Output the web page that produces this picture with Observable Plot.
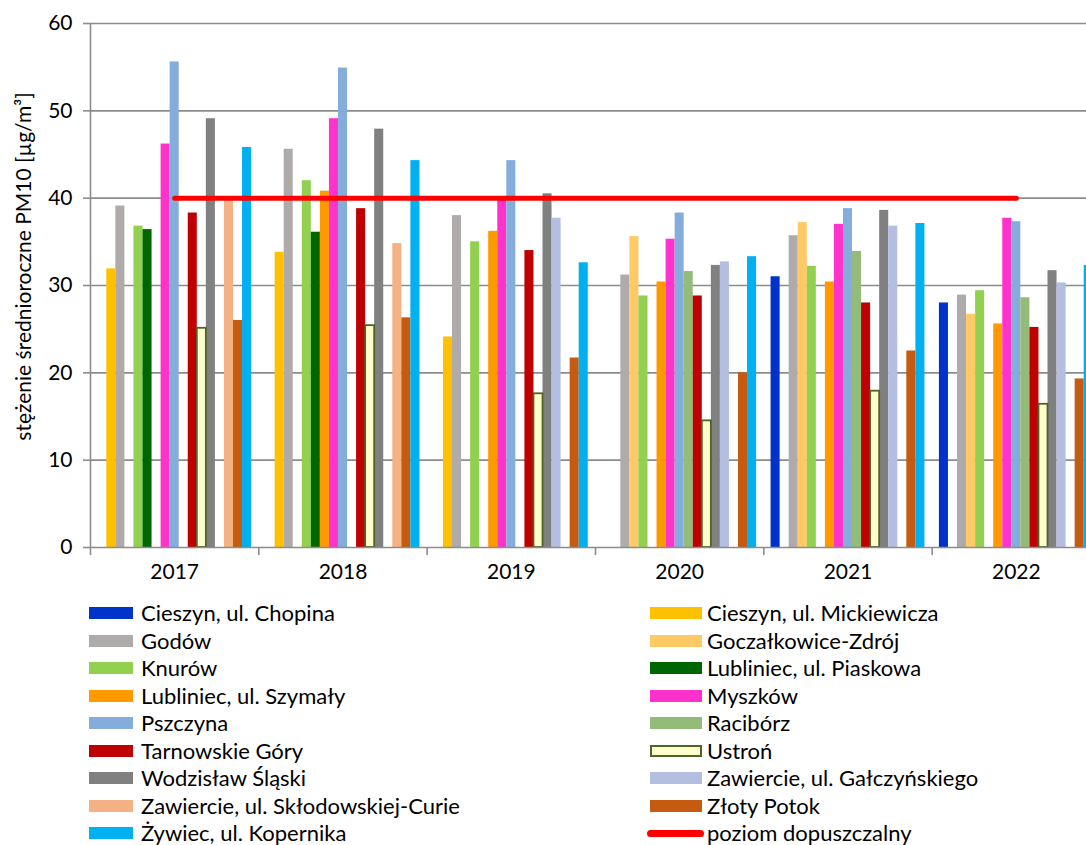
<!DOCTYPE html>
<html><head><meta charset="utf-8">
<script src="https://cdn.jsdelivr.net/npm/d3@7"></script>
<script src="https://cdn.jsdelivr.net/npm/@observablehq/plot@0.6"></script>
<style>
html,body{margin:0;padding:0;background:#fff;overflow:hidden}
#wrap{position:relative;width:1086px;height:845px;overflow:hidden;font-family:Lato,sans-serif;background:#fff}
#chart{position:absolute;left:0;top:0;width:1100px}
#chart svg{max-width:none}
.item{position:absolute;height:27px;font-size:22px;color:#000;white-space:nowrap}
.sw{position:absolute;height:12px;top:8px}
.txt{position:absolute;top:1px;line-height:25px;height:25px}
</style></head>
<body><div id="wrap"><div id="chart"></div><div id="legend"></div></div>
<script>
const years = ["2017", "2018", "2019", "2020", "2021", "2022"];
const stations = ["Cieszyn, ul. Chopina", "Cieszyn, ul. Mickiewicza", "Godów", "Goczałkowice-Zdrój", "Knurów",
  "Lubliniec, ul. Piaskowa", "Lubliniec, ul. Szymały", "Myszków", "Pszczyna", "Racibórz", "Tarnowskie Góry",
  "Ustroń", "Wodzisław Śląski", "Zawiercie, ul. Gałczyńskiego", "Zawiercie, ul. Skłodowskiej-Curie", "Złoty Potok",
  "Żywiec, ul. Kopernika"];
const colors = ["#0033CC", "#FFC000", "#AFABAB", "#FFC966", "#92D050", "#006600", "#FF9900", "#FF33CC", "#85ADDB",
  "#93BB7A", "#C00000", "#FFFFCC", "#808080", "#B4BEE0", "#F4B183", "#C55A11", "#00B0F0"];

// values per station, 2017..2022 (null = no measurement)
const cieszynChopina     = [null, null, null, null, 31.0, 28.0];
const cieszynMickiewicza = [31.9, 33.8, 24.1, null, null, null];
const godow              = [39.1, 45.6, 38.0, 31.2, 35.7, 28.9];
const goczalkowice       = [null, null, null, 35.6, 37.2, 26.7];
const knurow             = [36.8, 42.0, 35.0, 28.8, 32.2, 29.4];
const lublPiaskowa       = [36.4, 36.1, null, null, null, null];
const lublSzymaly        = [null, 40.8, 36.2, 30.4, 30.4, 25.6];
const myszkow            = [46.2, 49.1, 39.8, 35.3, 37.0, 37.7];
const pszczyna           = [55.6, 54.9, 44.3, 38.3, 38.8, 37.3];
const raciborz           = [null, null, null, 31.6, 33.9, 28.6];
const tarnowskie         = [38.3, 38.8, 34.0, 28.8, 28.0, 25.2];
const ustron             = [25.1, 25.4, 17.6, 14.5, 17.9, 16.4];
const wodzislaw          = [49.1, 47.9, 40.5, 32.3, 38.6, 31.7];
const zawGalczynskiego   = [null, null, 37.7, 32.7, 36.8, 30.3];
const zawSklodowskiej    = [39.7, 34.8, null, null, null, null];
const zlotyPotok         = [26.0, 26.3, 21.7, 20.0, 22.5, 19.3];
const zywiec             = [45.8, 44.3, 32.6, 33.3, 37.1, 32.3];
const limit              = [40, 40, 40, 40, 40, 40];
const limitName = "poziom dopuszczalny";
const yTicks = [0, 10, 20, 30, 40, 50, 60];

const seriesValues = [cieszynChopina, cieszynMickiewicza, godow, goczalkowice, knurow, lublPiaskowa, lublSzymaly,
  myszkow, pszczyna, raciborz, tarnowskie, ustron, wodzislaw, zawGalczynskiego, zawSklodowskiej, zlotyPotok, zywiec];

const N = stations.length, PAD = 0.8, step = 1 / (N + 2 * PAD);
const rows = [];
seriesValues.forEach((vals, si) => vals.forEach((v, yi) => {
  if (v != null) rows.push({year: years[yi], station: stations[si], value: v,
    x1: yi + (PAD + si) * step, x2: yi + (PAD + si + 1) * step});
}));
const grid = "#8c8c8c";

const chart = Plot.plot({
  width: 1100, height: 597,
  marginLeft: 90, marginRight: 0, marginTop: 23, marginBottom: 50,
  style: {fontFamily: "Lato, sans-serif", fontSize: "21px", background: "white", maxWidth: "none", color: "black"},
  x: {domain: [0, 6]},
  y: {domain: [0, 60]},
  color: {domain: stations, range: colors},
  marks: [
    Plot.ruleY(yTicks.filter(d => d > 0), {stroke: grid, strokeWidth: 1.6}),
    Plot.rectY(rows, {x1: "x1", x2: "x2", y: "value", fill: "station"}),
    Plot.rectY(rows.filter(d => d.station === "Ustroń"), {x1: "x1", x2: "x2", y: "value", fill: "#FFFFCC", stroke: "#4F6228", strokeWidth: 1.8}),
    Plot.ruleX([0], {stroke: grid, strokeWidth: 1.6}),
    Plot.ruleY([0], {stroke: grid, strokeWidth: 1.6}),
    Plot.lineY(limit, {x: (d, i) => i + 0.5, y: d => d, stroke: "#FF0000", strokeWidth: 5, strokeLinecap: "round"}),
    Plot.axisY({ticks: yTicks, tickSize: 7, tickPadding: 11, stroke: grid, strokeWidth: 1.6, fill: "black", fontSize: 21, label: null}),
    Plot.axisX({ticks: d3.range(7), tickSize: 8, tickFormat: () => "", stroke: grid, strokeWidth: 1.6, label: null}),
    Plot.text(years, {x: (d, i) => i + 0.5, frameAnchor: "bottom", dy: 31, fontSize: 21, fill: "black"}),
    Plot.text(["stężenie średnioroczne PM10 [µg/m³]"], {frameAnchor: "left", textAnchor: "middle", dx: -66, dy: -19, rotate: -90, fontSize: 21, fill: "black"})
  ]
});
document.getElementById("chart").appendChild(chart);

// legend
const legend = document.getElementById("legend");
const entries = stations.map((s, i) => ({name: s, color: colors[i]})).concat([{name: limitName, line: true}]);
entries.forEach((e, i) => {
  const col = i % 2, row = Math.floor(i / 2);
  const item = document.createElement("div");
  item.className = "item";
  item.style.left = "0px";
  item.style.top = (599 + row * 27.5) + "px";
  const sw = document.createElement("div");
  sw.className = "sw";
  sw.style.left = (col === 0 ? 89 : 650) + "px";
  sw.style.width = (col === 0 ? 44 : 52) + "px";
  if (e.line) {
    sw.style.background = "#FF0000"; sw.style.height = "7px"; sw.style.top = "11px"; sw.style.borderRadius = "4px";
    sw.style.left = "647px"; sw.style.width = "57px";
  } else if (e.name === "Ustroń") {
    sw.style.background = "#FFFFCC"; sw.style.border = "2px solid #4F6228"; sw.style.boxSizing = "border-box";
  } else {
    sw.style.background = e.color;
  }
  const t = document.createElement("div");
  t.className = "txt";
  t.style.left = (col === 0 ? 141 : 707) + "px";
  t.textContent = e.name;
  item.appendChild(sw); item.appendChild(t);
  legend.appendChild(item);
});
</script>
</body></html>
